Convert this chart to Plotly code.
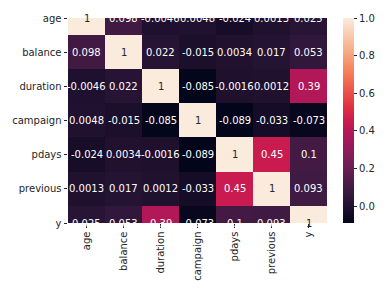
import plotly.graph_objects as go

# Correlation matrix of the bank-marketing features
labels = ["age", "balance", "duration", "campaign", "pdays", "previous", "y"]
row_age = [1, 0.098, -0.0046, 0.0048, -0.024, 0.0013, 0.025]
row_balance = [0.098, 1, 0.022, -0.015, 0.0034, 0.017, 0.053]
row_duration = [-0.0046, 0.022, 1, -0.085, -0.0016, 0.0012, 0.39]
row_campaign = [0.0048, -0.015, -0.085, 1, -0.089, -0.033, -0.073]
row_pdays = [-0.024, 0.0034, -0.0016, -0.089, 1, 0.45, 0.1]
row_previous = [0.0013, 0.017, 0.0012, -0.033, 0.45, 1, 0.093]
row_y = [0.025, 0.053, 0.39, -0.073, 0.1, 0.093, 1]
corr = [row_age, row_balance, row_duration, row_campaign, row_pdays, row_previous, row_y]
cbar_ticks = [0.0, 0.2, 0.4, 0.6, 0.8, 1.0]

# "rocket" sequential colormap
rocket = [
    [0.0, "#03051a"],
    [1 / 7, "#35193e"],
    [2 / 7, "#701f57"],
    [3 / 7, "#ad1759"],
    [0.5, "#cb1b4f"],
    [4 / 7, "#e13342"],
    [5 / 7, "#f37651"],
    [6 / 7, "#f6b48f"],
    [1.0, "#faebdd"],
]

zmin = min(min(r) for r in corr)
zmax = max(max(r) for r in corr)

W, H = 388, 293
m_l, m_r, m_t, m_b = 63, 57, 12, 64
plot_w = W - m_l - m_r

fig = go.Figure(
    go.Heatmap(
        z=corr,
        x=labels,
        y=labels,
        colorscale=rocket,
        zmin=zmin,
        zmax=zmax,
        xgap=0,
        ygap=0,
        hoverinfo="skip",
        colorbar=dict(
            thickness=11,
            len=1.0,
            lenmode="fraction",
            x=(348 - m_l) / plot_w,
            xanchor="left",
            xpad=0,
            y=0,
            yanchor="bottom",
            ypad=0,
            outlinewidth=0,
            tickvals=cbar_ticks,
            ticktext=[f"{v:.1f}" for v in cbar_ticks],
            ticks="outside",
            ticklen=3.5,
            tickwidth=0.8,
            tickcolor="#262626",
            tickfont=dict(family="DejaVu Sans", size=10, color="#262626"),
        ),
    )
)

# Cell annotations (.2g, dark text on light cells)
for i, row in enumerate(corr):
    for j, v in enumerate(row):
        norm = (v - zmin) / (zmax - zmin)
        color = "#262626" if norm > 0.8 else "#ffffff"
        fig.add_annotation(
            x=labels[j],
            y=labels[i],
            text=format(v, ".2g"),
            showarrow=False,
            font=dict(family="DejaVu Sans", size=10, color=color),
            xanchor="center",
            yanchor="middle",
        )

axis_common = dict(
    showgrid=False,
    zeroline=False,
    showline=False,
    ticks="outside",
    ticklen=3.5,
    tickwidth=0.8,
    tickcolor="#262626",
    tickfont=dict(family="DejaVu Sans", size=10, color="#262626"),
)

fig.update_layout(
    width=W,
    height=H,
    margin=dict(l=m_l, r=m_r, t=m_t, b=m_b),
    paper_bgcolor="white",
    plot_bgcolor="white",
    showlegend=False,
    xaxis=dict(**axis_common, tickangle=-90, range=[-0.5, 6.5]),
    yaxis=dict(**axis_common, range=[6, 0]),
)

fig.write_html("out.html")
